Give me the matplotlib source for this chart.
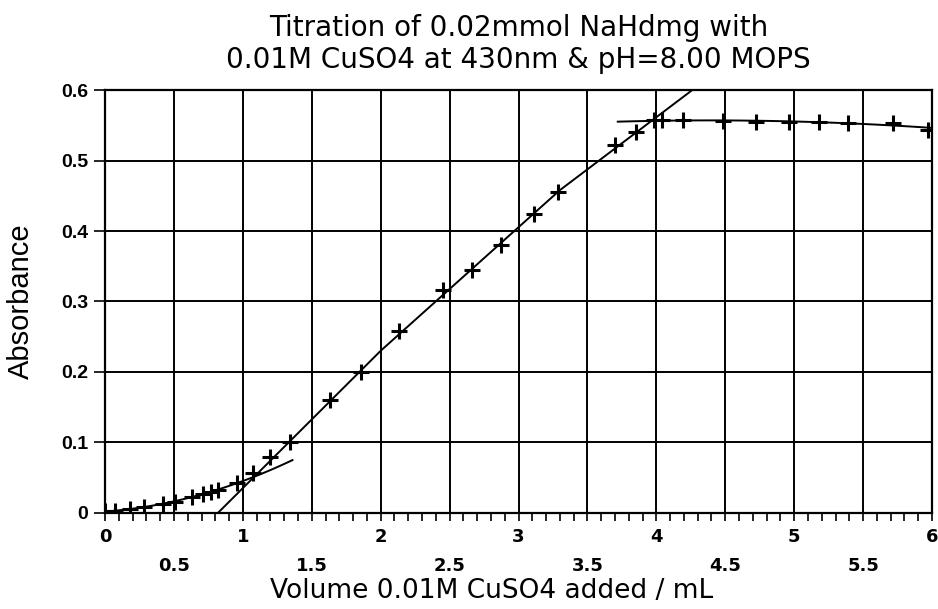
import numpy as np
import matplotlib
matplotlib.use("Agg")
import matplotlib.pyplot as plt

vol = [0.0, 0.07, 0.18, 0.28, 0.42, 0.51, 0.63, 0.71, 0.77, 0.82, 0.96,
       1.07, 1.20, 1.34, 1.63, 1.86, 2.13, 2.45, 2.66, 2.87, 3.11, 3.29,
       3.70, 3.85, 3.98, 4.04, 4.19, 4.48, 4.72, 4.96, 5.18, 5.39, 5.72, 5.97]
absb = [0.002, 0.003, 0.005, 0.008, 0.013, 0.016, 0.023, 0.027, 0.030, 0.033, 0.042,
        0.057, 0.079, 0.101, 0.160, 0.200, 0.258, 0.316, 0.345, 0.380, 0.424, 0.456,
        0.522, 0.540, 0.557, 0.557, 0.557, 0.556, 0.555, 0.555, 0.555, 0.554, 0.553, 0.544]

# hand-drawn segment through the rising part
rise_x = [0.82, 2.00, 3.30, 4.26]
rise_y = [0.0, 0.230, 0.458, 0.60]

vol = np.array(vol)
absb = np.array(absb)

fig = plt.figure(figsize=(9.38, 6.09), dpi=100)
ax = fig.add_axes([0.112, 0.158, 0.8816, 0.694])

# grid first so marks sit on top
for gx in np.arange(0.5, 6.0, 0.5):
    ax.axvline(gx, color="black", lw=1.4, zorder=1)
for gy in np.arange(0.1, 0.6, 0.1):
    ax.axhline(gy, color="black", lw=1.4, zorder=1)

# low curve: quadratic through the early points
lo = vol <= 0.96
p_lo = np.polyfit(vol[lo], absb[lo], 2)
xl = np.linspace(0, 1.36, 60)
ax.plot(xl, np.polyval(p_lo, xl), color="black", lw=1.4, zorder=2)

ax.plot(rise_x, rise_y, color="black", lw=1.4, zorder=2)

# plateau
hi = vol >= 3.98
p_hi = np.polyfit(vol[hi], absb[hi], 2)
xh = np.linspace(3.72, 6.0, 60)
ax.plot(xh, np.polyval(p_hi, xh), color="black", lw=1.4, zorder=2)

ax.plot(vol, absb, ls="none", marker="+", ms=11, mew=2.2, color="black", zorder=3)

ax.set_xlim(0, 6)
ax.set_ylim(0, 0.6)

xt = np.arange(0, 6.01, 0.5)
xlab = [("%g" % v) if v == int(v) else "\n%g" % v for v in xt]
ax.set_xticks(xt)
ax.set_xticklabels(xlab, fontsize=13, fontweight="bold", linespacing=1.75)
ax.set_xticks(np.arange(0, 6.01, 0.1), minor=True)
ax.tick_params(axis="x", which="both", direction="out", length=6, width=1.2, pad=5)

yt = np.arange(0, 0.61, 0.1)
ax.set_yticks(yt)
ax.set_yticklabels(["0"] + ["%.1f" % v for v in yt[1:]],
                   fontsize=14, fontweight="bold", family="Liberation Sans")
ax.tick_params(axis="y", direction="out", length=8, width=1.2, pad=4)

for s in ax.spines.values():
    s.set_linewidth(1.6)

ax.set_ylabel("Absorbance", fontsize=21, family="Liberation Sans")
ax.yaxis.set_label_coords(-0.085, 0.5)
ax.set_xlabel("Volume 0.01M CuSO4 added / mL", fontsize=19)
ax.xaxis.set_label_coords(0.467, -0.155)
ax.set_title("Titration of 0.02mmol NaHdmg with\n0.01M CuSO4 at 430nm & pH=8.00 MOPS",
             fontsize=20, pad=16, linespacing=1.2)

fig.savefig("out.png", dpi=100)
